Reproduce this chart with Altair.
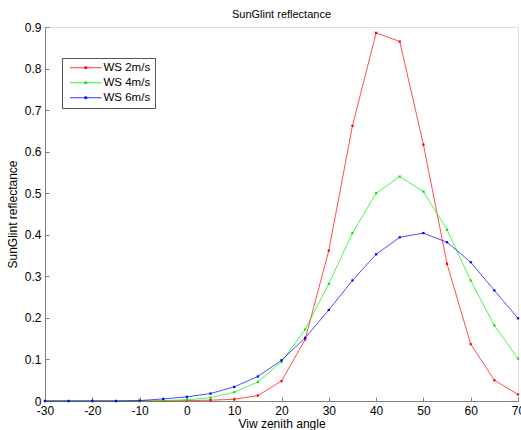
import altair as alt
import pandas as pd

angles = [-30, -25, -20, -15, -10, -5, 0, 5, 10, 15, 20, 25, 30, 35, 40, 45, 50, 55, 60, 65, 70]
ws2 = [0, 0, 0, 0, 0, 0, 0.001, 0.002, 0.004, 0.013, 0.048, 0.148, 0.362, 0.662, 0.886, 0.865, 0.617, 0.330, 0.137, 0.050, 0.016]
ws4 = [0, 0, 0, 0, 0, 0.001, 0.003, 0.008, 0.021, 0.046, 0.094, 0.172, 0.282, 0.404, 0.500, 0.540, 0.504, 0.412, 0.290, 0.182, 0.102]
ws6 = [0, 0, 0, 0, 0.001, 0.005, 0.010, 0.018, 0.034, 0.059, 0.098, 0.152, 0.219, 0.290, 0.353, 0.394, 0.404, 0.382, 0.334, 0.266, 0.199]
series = ["WS 2m/s", "WS 4m/s", "WS 6m/s"]
colors = ["#ff0000", "#00ee00", "#0000ff"]
x_ticks = [-30, -20, -10, 0, 10, 20, 30, 40, 50, 60, 70]
y_ticks = [0, 0.1, 0.2, 0.3, 0.4, 0.5, 0.6, 0.7, 0.8, 0.9]

rows = []
for name, vals in zip(series, [ws2, ws4, ws6]):
    for a, v in zip(angles, vals):
        rows.append({"angle": a, "refl": v, "series": name})
df = pd.DataFrame(rows)

font = "Liberation Sans"
xscale = alt.Scale(domain=[-30, 70], nice=False, zero=False)
yscale = alt.Scale(domain=[0, 0.9], nice=False)

# legend glyph: a line with a small square marker in the middle
legend_path = "M-5,0L5,0M-0.3,-0.3L0.3,-0.3L0.3,0.3L-0.3,0.3Z"

main = alt.Chart(df).mark_line(
    strokeWidth=0.7,
    point=alt.OverlayMarkDef(shape="square", size=5, filled=True),
).encode(
    x=alt.X("angle:Q", scale=xscale,
            axis=alt.Axis(values=x_ticks, title="Viw zenith angle", tickSize=0,
                          domainColor="#808080", grid=False, labelPadding=4,
                          labelExpr="datum.value + ''",
                          labelFont=font, labelFontSize=12, labelColor="#000000",
                          titleFont=font, titleFontSize=12, titleFontWeight="normal",
                          titleColor="#000000", titlePadding=2, labelFlush=False)),
    y=alt.Y("refl:Q", scale=yscale,
            axis=alt.Axis(values=y_ticks, title="SunGlint reflectance", tickSize=0,
                          domainColor="#808080", grid=False, labelPadding=4,
                          labelExpr="datum.value + ''",
                          labelFont=font, labelFontSize=12, labelColor="#000000",
                          titleFont=font, titleFontSize=12, titleFontWeight="normal",
                          titleColor="#000000", titlePadding=5, labelFlush=False)),
    color=alt.Color("series:N", scale=alt.Scale(domain=series, range=colors),
                    legend=alt.Legend(title=None, orient="none", legendX=17, legendY=31,
                                      symbolType=legend_path, symbolSize=40,
                                      symbolStrokeWidth=0.8, symbolOffset=14,
                                      labelFont=font, labelFontSize=11.5, labelColor="#000000",
                                      strokeColor="#555555", fillColor="#ffffff",
                                      padding=4, rowPadding=2, labelOffset=12)),
)

ticks = alt.Chart(df).mark_line(opacity=0).encode(
    x=alt.X("angle:Q", scale=xscale,
            axis=alt.Axis(values=x_ticks, orient="bottom", offset=-4, tickSize=4,
                          tickColor="#808080", domain=False, labels=False, title=None,
                          grid=False)),
    y=alt.Y("refl:Q", scale=yscale,
            axis=alt.Axis(values=y_ticks, orient="left", offset=-4, tickSize=4,
                          tickColor="#808080", domain=False, labels=False, title=None,
                          grid=False)),
)

chart = alt.layer(main, ticks).resolve_axis(x="independent", y="independent").properties(
    width=473, height=374,
    title=alt.Title("SunGlint reflectance", font=font, fontSize=11, fontWeight="normal",
                    color="#000000", offset=1),
    autosize=alt.AutoSizeParams(type="none"),
    padding={"left": 45, "top": 27, "right": 3, "bottom": 29},
).configure_view(stroke=None).configure(background="#ffffff")

chart.save("out.html", embed_options={"renderer": "svg", "actions": False})
